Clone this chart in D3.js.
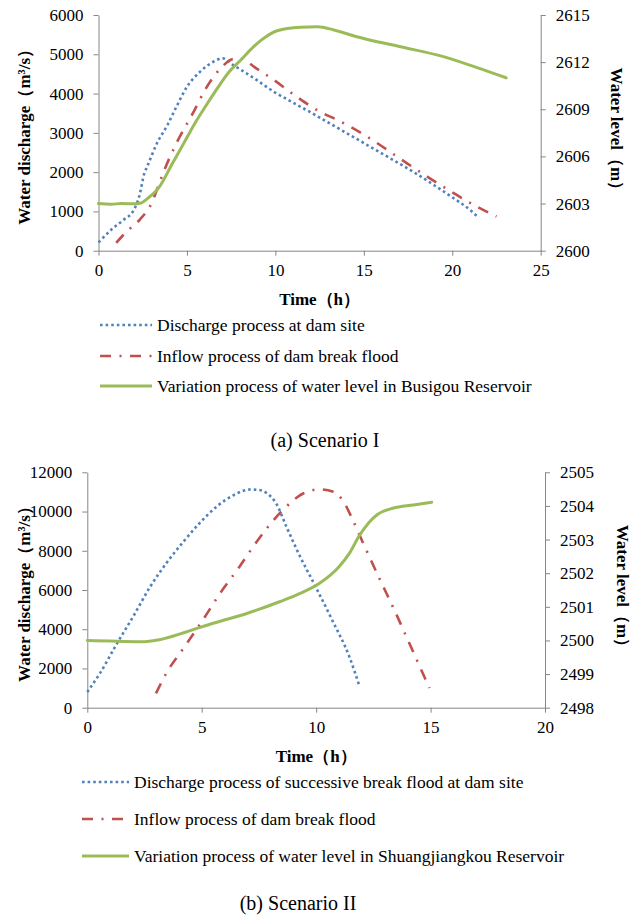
<!DOCTYPE html>
<html>
<head>
<meta charset="utf-8">
<script src="https://d3js.org/d3.v7.min.js"></script>
<style>
  body { margin: 0; background: #fff; }
  svg text { font-family: 'Liberation Serif', 'Times New Roman', serif; fill: #000; }
</style>
</head>
<body>
<div id="chart"></div>
<script>
// ---- Scenario I data ----
const damTimeA = [0, 0.75, 1.4, 2.0, 2.3, 2.6, 2.75, 3.3, 3.9, 4.4, 5.0, 5.75, 6.5, 7.0, 7.6, 8.8, 9.9, 11.0, 12.0, 13.0, 14.0, 15.0, 16.0, 17.0, 18.0, 19.0, 20.0, 21.0, 21.4];
const damFlowA = [210, 545, 780, 1040, 1380, 1980, 2140, 2730, 3200, 3660, 4170, 4560, 4810, 4900, 4730, 4390, 4050, 3770, 3520, 3260, 3000, 2740, 2480, 2220, 1950, 1660, 1360, 1040, 880];
const inflowTimeA = [1.0, 1.4, 1.8, 2.35, 3.0, 3.4, 3.65, 4.4, 5.3, 6.1, 6.9, 7.6, 8.0, 8.9, 9.9, 11.2, 12.5, 13.5, 15.2, 16.9, 18.6, 20.1, 21.4, 22.5];
const inflowFlowA = [200, 400, 570, 800, 1210, 1670, 1970, 2730, 3470, 4150, 4640, 4880, 4900, 4650, 4350, 3920, 3540, 3330, 2900, 2390, 1880, 1460, 1120, 870];
const levelTimeA = [0, 0.7, 1.3, 2.0, 2.4, 2.8, 3.4, 4.2, 5.0, 5.5, 6.0, 6.7, 7.4, 8.1, 8.6, 9.2, 10.1, 11.4, 12.4, 13.3, 14.6, 17.0, 19.5, 21.4, 23.05];
const levelA = [2603.0, 2602.96, 2603.0, 2602.98, 2603.04, 2603.35, 2604.0, 2605.6, 2607.2, 2608.2, 2609.1, 2610.3, 2611.4, 2612.2, 2612.8, 2613.4, 2614.0, 2614.22, 2614.25, 2614.05, 2613.62, 2613.0, 2612.35, 2611.65, 2611.0];

// ---- Scenario II data ----
const damTimeB = [0, 0.55, 1.3, 2.0, 2.75, 3.45, 4.2, 4.9, 5.65, 6.4, 7.1, 7.5, 7.85, 8.25, 8.7, 9.3, 9.9, 10.7, 11.45, 11.9];
const damFlowB = [800, 1750, 3280, 4640, 6170, 7360, 8460, 9400, 10250, 10840, 11120, 11100, 10930, 10420, 9230, 7700, 6340, 4470, 2600, 1070];
const inflowTimeB = [3.0, 3.45, 4.25, 5.05, 5.8, 6.65, 7.25, 7.85, 8.55, 9.45, 10.15, 10.75, 11.2, 11.6, 12.05, 12.8, 13.45, 13.95, 14.45, 14.95];
const inflowFlowB = [730, 1750, 3110, 4470, 5830, 7190, 8210, 9150, 10080, 10930, 11130, 11010, 10500, 9570, 8400, 6500, 4900, 3600, 2300, 1000];
const levelTimeB = [0, 1.0, 2.3, 3.2, 4.35, 5.5, 7.0, 8.4, 9.3, 10.15, 11.0, 11.45, 11.9, 12.3, 12.65, 13.35, 14.25, 15.05];
const levelB = [2500.0, 2499.98, 2499.96, 2500.03, 2500.26, 2500.51, 2500.81, 2501.15, 2501.4, 2501.7, 2502.19, 2502.59, 2503.13, 2503.5, 2503.73, 2503.93, 2504.03, 2504.11];

// ---- tick values ----
const timeTicksA = [0, 5, 10, 15, 20, 25];
const flowTicksA = [0, 1000, 2000, 3000, 4000, 5000, 6000];
const levelTicksA = [2600, 2603, 2606, 2609, 2612, 2615];
const timeTicksB = [0, 5, 10, 15, 20];
const flowTicksB = [0, 2000, 4000, 6000, 8000, 10000, 12000];
const levelTicksB = [2498, 2499, 2500, 2501, 2502, 2503, 2504, 2505];

const legendA = ['Discharge process at dam site', 'Inflow process of dam break flood', 'Variation process of water level in Busigou Reservoir'];
const legendB = ['Discharge process of successive break flood at dam site', 'Inflow process of dam break flood', 'Variation process of water level in Shuangjiangkou Reservoir'];

const blue = '#4F81BD', red = '#C0504D', green = '#9BBB59';
const styles = [
    { color: blue, width: 2.6, dash: '2.6 3', cap: 'butt' },
    { color: red, width: 2.6, dash: '11 8.5 2 8.5', cap: 'butt' },
    { color: green, width: 3, dash: null, cap: 'round' }
];
const FONT = "'Liberation Serif', 'Times New Roman', serif";

const svg = d3.select('#chart').append('svg')
    .attr('width', 638)
    .attr('height', 917);

function zip(a, b) { return a.map((v, i) => [v, b[i]]); }

function drawPanel(cfg) {
    const g = svg.append('g');
    const x = d3.scaleLinear().domain(cfg.xDomain).range([cfg.left, cfg.right]);
    const yL = d3.scaleLinear().domain(cfg.yDomain).range([cfg.bottom, cfg.top]);
    const yR = d3.scaleLinear().domain(cfg.y2Domain).range([cfg.bottom, cfg.top]);

    // axes
    const ax = g.append('g').attr('transform', 'translate(0,' + cfg.bottom + ')')
        .call(d3.axisBottom(x).tickValues(cfg.xTicks).tickSize(5).tickPadding(8).tickSizeOuter(0));
    const ayL = g.append('g').attr('transform', 'translate(' + cfg.left + ',0)')
        .call(d3.axisLeft(yL).tickValues(cfg.yTicks).tickSize(5).tickPadding(10).tickSizeOuter(0).tickFormat(d3.format('d')));
    const ayR = g.append('g').attr('transform', 'translate(' + cfg.right + ',0)')
        .call(d3.axisRight(yR).tickValues(cfg.y2Ticks).tickSize(5).tickPadding(10).tickSizeOuter(0).tickFormat(d3.format('d')));
    [ax, ayL, ayR].forEach(a => {
        a.attr('font-family', FONT).attr('font-size', 17);
        a.selectAll('text').attr('fill', '#000');
        a.select('.domain').attr('stroke', '#868686');
        a.selectAll('.tick line').attr('stroke', '#868686');
    });

    // lines
    const lineL = d3.line().x(d => x(d[0])).y(d => yL(d[1])).curve(d3.curveMonotoneX);
    const lineR = d3.line().x(d => x(d[0])).y(d => yR(d[1])).curve(d3.curveMonotoneX);
    const series = [
        { data: zip(cfg.damT, cfg.damQ), line: lineL },
        { data: zip(cfg.inT, cfg.inQ), line: lineL },
        { data: zip(cfg.lvT, cfg.lv), line: lineR }
    ];
    series.forEach((s, i) => {
        g.append('path')
            .datum(s.data)
            .attr('fill', 'none')
            .attr('stroke', styles[i].color)
            .attr('stroke-width', styles[i].width)
            .attr('stroke-dasharray', styles[i].dash)
            .attr('stroke-linecap', styles[i].cap)
            .attr('d', s.line);
    });

    // axis titles
    const midY = (cfg.top + cfg.bottom) / 2;
    g.append('text')
        .attr('transform', 'translate(' + cfg.leftTitleX + ',' + midY + ') rotate(-90)')
        .attr('text-anchor', 'middle')
        .attr('dy', '0.35em')
        .style('font-size', '17px').style('font-weight', 'bold')
        .text('Water discharge（m³/s）');
    g.append('text')
        .attr('transform', 'translate(' + cfg.rightTitleX + ',' + midY + ') rotate(90)')
        .attr('text-anchor', 'middle')
        .attr('dy', '0.35em')
        .style('font-size', '17px').style('font-weight', 'bold')
        .text('Water level（m）');
    g.append('text')
        .attr('x', (cfg.left + cfg.right) / 2)
        .attr('y', cfg.bottom + 54)
        .attr('text-anchor', 'middle')
        .style('font-size', '17px').style('font-weight', 'bold')
        .text('Time（h）');

    // legend
    cfg.legend.forEach((name, i) => {
        const ly = cfg.legendY[i];
        g.append('line')
            .attr('x1', cfg.legendX[0]).attr('x2', cfg.legendX[1])
            .attr('y1', ly).attr('y2', ly)
            .attr('stroke', styles[i].color)
            .attr('stroke-width', styles[i].width)
            .attr('stroke-dasharray', styles[i].dash);
        g.append('text')
            .attr('x', cfg.legendX[1] + 5)
            .attr('y', ly)
            .attr('dy', '0.33em')
            .style('font-size', '17.5px')
            .text(name);
    });

    // caption
    g.append('text')
        .attr('x', cfg.captionX)
        .attr('y', cfg.captionY)
        .attr('text-anchor', 'middle')
        .style('font-size', '20px')
        .text(cfg.caption);
}

drawPanel({
    left: 98.5, right: 540.7, top: 15, bottom: 250.7,
    xDomain: [0, 25], yDomain: [0, 6000], y2Domain: [2600, 2615],
    xTicks: timeTicksA, yTicks: flowTicksA, y2Ticks: levelTicksA,
    damT: damTimeA, damQ: damFlowA, inT: inflowTimeA, inQ: inflowFlowA, lvT: levelTimeA, lv: levelA,
    leftTitleX: 24, rightTitleX: 617,
    legend: legendA, legendX: [100, 152], legendY: [325, 356, 386],
    caption: '(a) Scenario I', captionX: 325, captionY: 447
});

drawPanel({
    left: 87.3, right: 545, top: 472.3, bottom: 707.7,
    xDomain: [0, 20], yDomain: [0, 12000], y2Domain: [2498, 2505],
    xTicks: timeTicksB, yTicks: flowTicksB, y2Ticks: levelTicksB,
    damT: damTimeB, damQ: damFlowB, inT: inflowTimeB, inQ: inflowFlowB, lvT: levelTimeB, lv: levelB,
    leftTitleX: 24, rightTitleX: 623,
    legend: legendB, legendX: [82, 129], legendY: [782, 819, 856],
    caption: '(b) Scenario II', captionX: 298, captionY: 910
});
</script>
</body>
</html>
